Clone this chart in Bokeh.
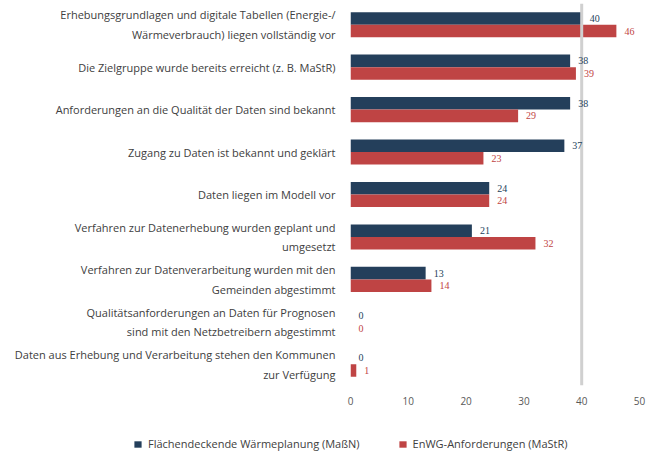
from bokeh.plotting import figure
from bokeh.models import ColumnDataSource, Span, Legend, LegendItem, FixedTicker, LabelSet, Range1d
from bokeh.layouts import column
from bokeh.transform import dodge
from bokeh.embed import file_html
from bokeh.resources import INLINE

categories = [
    "Erhebungsgrundlagen und digitale Tabellen (Energie-/\nWärmeverbrauch) liegen vollständig vor",
    "Die Zielgruppe wurde bereits erreicht (z. B. MaStR)",
    "Anforderungen an die Qualität der Daten sind bekannt",
    "Zugang zu Daten ist bekannt und geklärt",
    "Daten liegen im Modell vor",
    "Verfahren zur Datenerhebung wurden geplant und\numgesetzt",
    "Verfahren zur Datenverarbeitung wurden mit den\nGemeinden abgestimmt",
    "Qualitätsanforderungen an Daten für Prognosen\nsind mit den Netzbetreibern abgestimmt",
    "Daten aus Erhebung und Verarbeitung stehen den Kommunen\nzur Verfügung",
]
series_a_name = "Flächendeckende Wärmeplanung (MaßN)"
series_b_name = "EnWG-Anforderungen (MaStR)"
series_a = [40, 38, 38, 37, 24, 21, 13, 0, 0]
series_b = [46, 39, 29, 23, 24, 32, 14, 0, 1]
x_ticks = [0, 10, 20, 30, 40, 50]
reference_value = 40

BLUE = "#243F5B"
RED = "#BF4444"
FONT = "Open Sans"

src = ColumnDataSource(dict(
    cat=categories, a=series_a, b=series_b,
    a_txt=[str(v) for v in series_a], b_txt=[str(v) for v in series_b],
))

p = figure(width=658, height=425, y_range=list(reversed(categories)), x_range=(0, 50),
           output_backend="svg", toolbar_location=None,
           min_border_left=350, min_border_right=19, min_border_top=3, min_border_bottom=40)
p.outline_line_color = None
p.grid.visible = False
p.background_fill_color = "white"
p.border_fill_color = "white"

ra = p.hbar(y=dodge("cat", 0.148, range=p.y_range), right="a", left=0, height=0.296,
            source=src, color=BLUE, line_color=None)
rb = p.hbar(y=dodge("cat", -0.148, range=p.y_range), right="b", left=0, height=0.296,
            source=src, color=RED, line_color=None)

p.add_layout(Span(location=reference_value, dimension="height", line_color="#D0D0D0", line_width=3))

la = LabelSet(x="a", y=dodge("cat", 0.148, range=p.y_range), text="a_txt", source=src,
              x_offset=8, text_align="left", text_baseline="middle",
              text_font_size="10px", text_color=BLUE, text_font=FONT)
lb = LabelSet(x="b", y=dodge("cat", -0.148, range=p.y_range), text="b_txt", source=src,
              x_offset=8, text_align="left", text_baseline="middle",
              text_font_size="10px", text_color=RED, text_font=FONT)
p.add_layout(la)
p.add_layout(lb)

p.xaxis.ticker = FixedTicker(ticks=x_ticks)
p.xaxis.axis_line_color = None
p.xaxis.major_tick_line_color = None
p.xaxis.minor_tick_line_color = None
p.xaxis.major_tick_out = 0
p.xaxis.major_tick_in = 0
p.xaxis.major_label_text_font_size = "10px"
p.xaxis.major_label_text_color = "#595959"
p.xaxis.major_label_text_font = FONT
p.xaxis.major_label_standoff = 11

p.yaxis.axis_line_color = None
p.yaxis.major_tick_line_color = None
p.yaxis.minor_tick_line_color = None
p.yaxis.major_tick_out = 0
p.yaxis.major_tick_in = 0
p.yaxis.major_label_text_font_size = "11px"
p.yaxis.major_label_text_color = "#404040"
p.yaxis.major_label_text_font = FONT
p.yaxis.major_label_text_line_height = 1.3
p.yaxis.major_label_text_align = "center"
p.yaxis.major_label_standoff = 15

# legend strip below the chart
lg = figure(width=658, height=29, x_range=Range1d(0, 1), y_range=Range1d(0, 1),
            output_backend="svg", toolbar_location=None,
            min_border_left=0, min_border_right=0, min_border_top=0, min_border_bottom=0)
p.frame_align = False
lg.frame_align = False
lg.axis.visible = False
lg.grid.visible = False
lg.outline_line_color = None
# zero-width proxies, used only for the legend swatches
la_r = lg.hbar(y="a", left="a", right="a", height=0.3, source=src, color=BLUE, line_color=None)
lb_r = lg.hbar(y="b", left="b", right="b", height=0.3, source=src, color=RED, line_color=None)
legend = Legend(items=[LegendItem(label=series_a_name, renderers=[la_r]),
                       LegendItem(label=series_b_name, renderers=[lb_r])],
                location=(133, 3), orientation="horizontal",
                label_text_font_size="11px", label_text_color="#404040",
                label_text_font=FONT,
                glyph_width=9, glyph_height=8, spacing=38, padding=0, margin=0,
                label_standoff=6, border_line_color=None, background_fill_alpha=0)
lg.add_layout(legend, "center")

layout = column(p, lg, spacing=0)
open("out.html", "w").write(file_html(layout, INLINE))
